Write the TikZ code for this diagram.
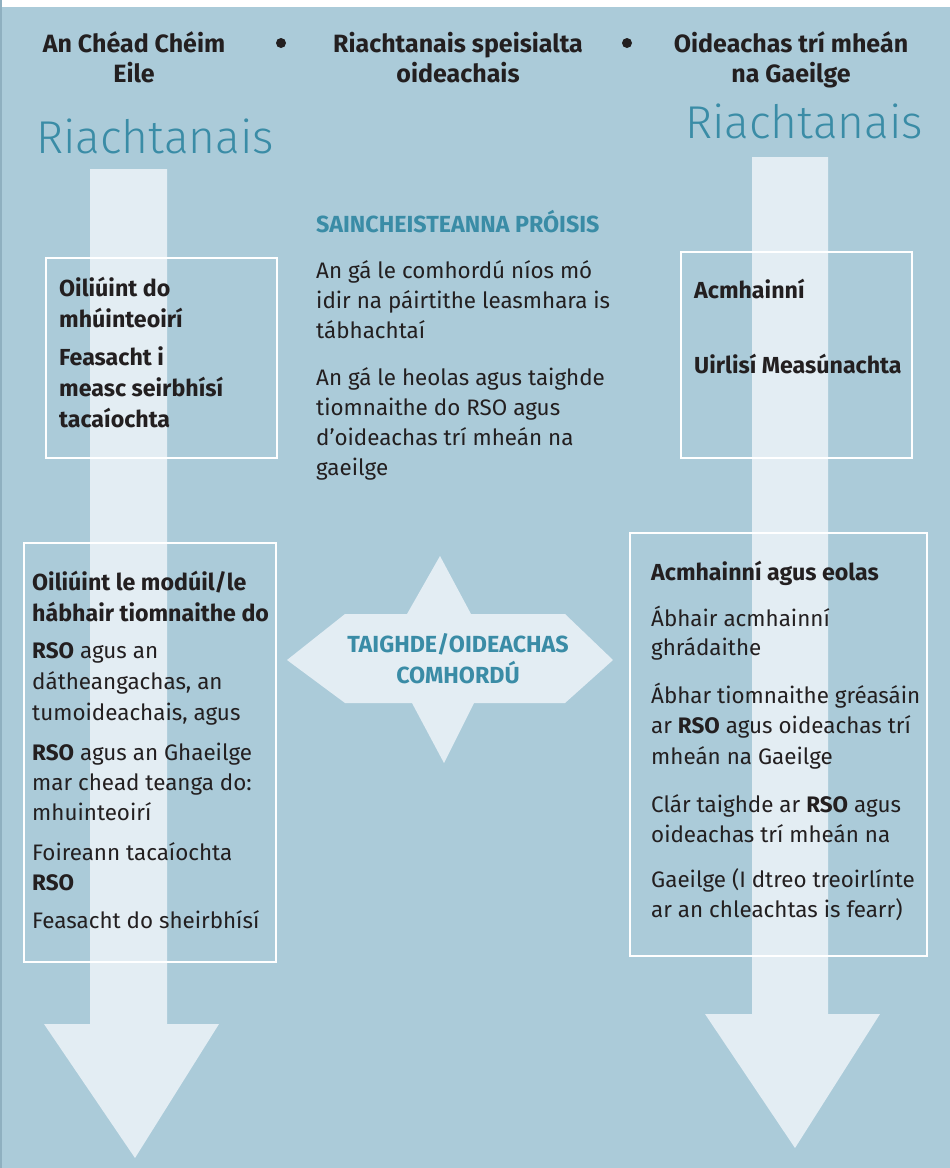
\documentclass[tikz,border=0pt]{standalone}
\usepackage{fontspec}
\setmainfont{Fira Sans}
\newfontfamily\lightfont{Fira Sans Light}
\definecolor{bgblue}{HTML}{ABCBD9}
\definecolor{lightarr}{HTML}{E3EDF3}
\definecolor{tealtxt}{HTML}{3A8CA6}
\definecolor{darktxt}{HTML}{231F20}
\definecolor{edgeblue}{HTML}{8FB0C0}
\newcommand{\bodysize}[1]{\fontsize{22.4}{#1}\selectfont}
\newcommand{\boldsize}[1]{\fontsize{23.2}{#1}\selectfont\bfseries}
\tikzset{
  boxframe/.style={draw=white, line width=2pt},
  arrowshape/.style={fill=lightarr},
  body/.style={anchor=base west, inner sep=0pt, align=left, text=darktxt, font=\bodysize{30}},
  bodybold/.style={body, font=\boldsize{31}},
  header/.style={anchor=base, inner sep=0pt, align=center, text=darktxt, font=\fontsize{25}{30}\selectfont\bfseries},
  bigtitle/.style={anchor=base west, inner sep=0pt, text=tealtxt, font=\fontsize{46}{50}\selectfont\lightfont},
  tealhead/.style={inner sep=0pt, text=tealtxt, font=\fontsize{23.3}{31}\selectfont\bfseries},
  bulletdot/.style={fill=darktxt}
}
\begin{document}
\begin{tikzpicture}[x=1pt,y=-1pt]
\useasboundingbox (0,0) rectangle (950,1168);
\fill[white] (0,0) rectangle (950,7);
\fill[bgblue] (0,7) rectangle (950,1168);
\draw[edgeblue, line width=1.5pt] (1,0) -- (1,1168);
% arrows
\fill[arrowshape] (90,169) -- (167,169) -- (167,1024) -- (219,1024) -- (135,1158) -- (44,1024) -- (90,1024) -- cycle;
\fill[arrowshape] (752,157) -- (828,157) -- (828,1014) -- (880,1014) -- (795,1148) -- (705,1014) -- (752,1014) -- cycle;
% star
\fill[arrowshape] (345,614) -- (407,614) -- (440,556) -- (471,614) -- (565,614) -- (613,660) -- (565,703) -- (474,703) -- (444,763) -- (412,703) -- (345,703) -- (287,660) -- cycle;
% boxes
\draw[boxframe] (46,258) rectangle (277,458);
\draw[boxframe] (681,252) rectangle (912,458);
\draw[boxframe] (24,543) rectangle (276,962);
\draw[boxframe] (630,533) rectangle (927,956);
% header (anchor = baseline of last line)
\node[header] (h1) at (134,82) {An Chéad Chéim\\Eile};
\node[header] (h2) at (458,82) {Riachtanais speisialta\\oideachais};
\node[header] (h3) at (791,82) {Oideachas trí mheán\\na Gaeilge};
\fill[bulletdot] (281,43) circle (5);
\fill[bulletdot] (627,43) circle (5);
\node[bigtitle] (t1) at (36,153) {Riachtanais};
\node[bigtitle] (t2) at (685,138) {Riachtanais};
% left box 1
\node[bodybold] (lb1a) at (59,327) {Oiliúint do\\mhúinteoirí};
\node[bodybold] (lb1b) at (59,427) {Feasacht i\\measc seirbhísí\\tacaíochta};
% middle
\node[tealhead, anchor=base west] (mh) at (316,232) {SAINCHEISTEANNA PRÓISIS};
\node[body] (m1) at (316,338) {An gá le comhordú níos mó\\idir na páirtithe leasmhara is\\tábhachtaí};
\node[body] (m2) at (316,475) {An gá le heolas agus taighde\\tiomnaithe do RSO agus\\d’oideachas trí mheán na\\gaeilge};
% right box 1
\node[bodybold] (rb1a) at (694,298) {Acmhainní};
\node[bodybold] (rb1b) at (694,373) {Uirlisí Measúnachta};
% star text
\node[tealhead, anchor=base, align=center] (st) at (458,683) {TAIGHDE/OIDEACHAS\\COMHORDÚ};
% left box 2
\node[bodybold] (lb2a) at (32,621) {Oiliúint le modúil/le\\hábhair tiomnaithe do};
\node[body, font=\bodysize{31}] (lb2b) at (32,720) {\textbf{RSO} agus an\\dátheangachas, an\\tumoideachais, agus};
\node[body] (lb2c) at (32,820) {\textbf{RSO} agus an Ghaeilge\\mar chead teanga do:\\mhuinteoirí};
\node[body] (lb2d) at (32,890) {Foireann tacaíochta\\\textbf{RSO}};
\node[body] (lb2e) at (32,928) {Feasacht do sheirbhísí};
% right box 2
\node[bodybold] (rb2a) at (651,580) {Acmhainní agus eolas};
\node[body, font=\bodysize{29}] (rb2b) at (651,655) {Ábhair acmhainní\\ghrádaithe};
\node[body, font=\bodysize{30.5}] (rb2c) at (651,764) {Ábhar tiomnaithe gréasáin\\ar \textbf{RSO} agus oideachas trí\\mheán na Gaeilge};
\node[body] (rb2d) at (651,842) {Clár taighde ar \textbf{RSO} agus\\oideachas trí mheán na};
\node[body] (rb2e) at (651,917) {Gaeilge (I dtreo treoirlínte\\ar an chleachtas is fearr)};
\end{tikzpicture}
\end{document}
